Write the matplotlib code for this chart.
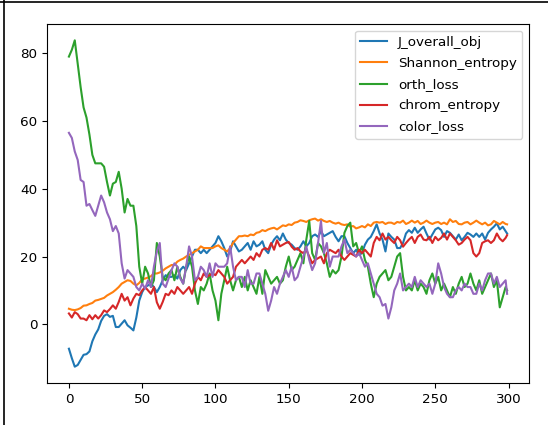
import numpy as np
import matplotlib
matplotlib.use("Agg")
import matplotlib.pyplot as plt
from matplotlib.lines import Line2D

# ── data (every 2nd step, plus the last one) ─────────────────────────────────
steps = list(range(0, 300, 2)) + [299]

j_overall_obj = [
    -7.2, -10, -12.5, -12, -10.5, -9, -8.8, -8, -5, -3,
    -1.5, 1, 2.5, 3, 2.2, 2.5, -0.8, -0.8, 0.2, 1.2,
    -0.3, -1, -1.8, 2, 7, 9.5, 11, 11.5, 12, 11,
    9.5, 11, 13, 14.5, 14, 14, 14.5, 13.5, 16, 17,
    16, 18, 20, 22, 22, 21, 22, 21, 22, 23,
    24, 26, 24.5, 22.5, 20, 21.5, 24.5, 23, 21.5, 22,
    23, 24, 22, 24.5, 23, 23.5, 24.5, 22, 21, 23.5,
    25, 26, 24.8, 26.8, 25, 24, 23.5, 22.5, 22, 23,
    24.5, 23, 24, 26, 26.5, 25.8, 27.5, 26, 26.5, 27,
    27.5, 25.8, 24.5, 26, 26, 24, 22.5, 21, 22, 20.5,
    21, 23.5, 25, 25.8, 27.5, 29.5, 26.8, 25, 21.5, 26.8,
    25.8, 25, 22.5, 22.5, 24, 26.8, 27.8, 27, 28.5, 27,
    28, 28.8, 26.8, 25, 26.5, 28, 28.5, 27.8, 25.8, 27.5,
    27, 26, 25, 26.5, 24.8, 25.8, 27, 26.5, 25.8, 26.8,
    25.8, 26.8, 25, 27, 28, 28.8, 29.8, 28, 28.8, 27.5,
    26.8,
]

shannon_entropy = [
    4.6, 4.3, 4.2, 4.4, 4.8, 5.5, 5.6, 6, 6.3, 7,
    7.2, 7.5, 7.8, 8.5, 9, 9.5, 10.2, 11, 12, 12.5,
    13, 12.8, 12, 11.5, 12.2, 13.3, 13.5, 13.8, 14.2, 15,
    15, 15.3, 15.8, 16.5, 17, 17.5, 17.5, 18.5, 19, 19.4,
    20, 20.5, 21, 21.5, 22, 23, 22.5, 22.5, 22.5, 22.5,
    23, 23.3, 22.5, 22, 21.5, 22.5, 24, 25, 26, 26,
    26.2, 26, 26.5, 26.3, 27, 27.2, 27.8, 27.5, 28, 28.3,
    28.5, 28, 28.6, 29.2, 29, 29.5, 29.3, 30, 30.2, 30.7,
    30.5, 30.2, 30.7, 31, 31.2, 30.6, 31, 30.5, 30.2, 30.5,
    30, 29.7, 30, 29.5, 29.3, 29.5, 28.8, 29, 28.3, 28.6,
    29, 28.6, 29.5, 29, 30, 30.2, 30, 30.2, 29.6, 30,
    30, 29.6, 30.2, 30, 30.6, 29.6, 30, 30.6, 30, 30.5,
    29.6, 30, 30.6, 30, 29.6, 30, 30.2, 29.6, 30, 29.5,
    31, 30.2, 30.5, 29.6, 29.5, 30, 30.2, 29.5, 30, 30.6,
    30, 29.5, 30, 29.2, 29.5, 30.5, 30, 29.5, 30.2, 29.6,
    29.5,
]

orth_loss = [
    79, 81, 83.8, 77, 70, 64, 61, 56, 50, 47.5,
    47.5, 47.5, 46.5, 42, 38, 41.5, 42, 45, 40, 33,
    37, 35, 35, 29, 17, 12, 17, 15, 11, 13,
    24, 20, 14, 13, 15, 16, 13, 17, 14, 12,
    17, 20, 17, 10, 6, 11, 10, 12, 15, 10,
    7, 1.2, 9, 13, 17, 13, 10, 13, 14, 11,
    14, 10, 13, 11, 9, 14, 9, 16, 14, 12,
    13, 14, 12, 13, 17, 20, 16, 17, 19, 21,
    18, 25, 30.5, 21, 19, 24, 23, 21, 18, 14,
    16, 15, 16, 20, 27, 29, 30, 23, 24, 21,
    23, 19, 17, 12, 8, 12, 14, 15, 16, 13,
    14, 17, 20, 21, 14, 10, 11, 10, 13, 10,
    12, 11, 9, 13, 15, 12, 14, 10, 12, 10,
    8, 11, 9, 12, 14, 11, 12, 15, 12, 10,
    13, 9, 11, 13, 15, 11, 13, 5, 8, 11,
    10,
]

chrom_entropy = [
    3.2, 2, 3.6, 3, 1.7, 1.7, 1.2, 2.7, 1.5, 2.7,
    1.7, 2.7, 4.1, 3.6, 4.5, 5.6, 4.6, 6.6, 9, 7,
    8, 5.6, 7.6, 9, 8.6, 10, 11, 10, 9, 11,
    6.5, 4.6, 6.6, 9, 8.6, 10, 9, 11, 10, 9,
    10, 11, 9, 12, 14, 13, 15, 14, 14.5, 15,
    14.5, 16, 15, 14, 12, 13, 14, 17, 18, 19,
    18, 19, 20, 19, 21, 20, 22, 22.5, 22, 24,
    22, 24.8, 23, 23.5, 24, 24.3, 22.9, 22, 22.5, 21.5,
    21, 22, 20, 18, 19, 19.5, 20, 18, 21, 22,
    21.5, 21, 22, 20, 19, 20, 21, 20.5, 20, 22,
    21, 22, 21, 20, 24, 25.8, 24.8, 26.8, 25, 25.8,
    24.8, 24, 25.8, 24.8, 22.9, 24, 25, 25.8, 24, 25.8,
    26.5, 25, 24.8, 25.8, 24, 25.8, 24.8, 25.5, 26.8, 25,
    26.8, 25.8, 24.8, 23.5, 24, 25, 25.8, 24.8, 21, 20,
    21, 24, 24.5, 24.8, 24, 24.8, 26.8, 25.3, 24.5, 25.5,
    26.3,
]

color_loss = [
    56.5, 55, 51, 48.5, 42.6, 42, 35, 35.5, 33.7, 32,
    35, 38, 36, 33, 31, 27.5, 29, 26.8, 18, 13.5,
    16, 15, 14, 11, 10, 12, 10.5, 13, 11, 17,
    21.5, 24, 12, 11, 13.5, 16, 18, 17, 13.5, 12,
    17, 23, 20, 13, 14, 17, 16, 14, 18, 14,
    18, 17, 17, 17, 18, 23, 17, 13, 14, 14,
    11, 16, 12, 12, 15, 15, 12, 9, 4, 7,
    11, 9, 12, 14, 16, 14, 17, 13, 14, 17,
    20, 23, 19, 16, 18, 24, 30.5, 21, 24, 17,
    20, 20, 20, 23, 25, 21, 22, 21, 20, 21,
    19, 17, 18, 15, 12, 9, 8, 5.5, 6, 1.7,
    5, 10, 12, 15, 10, 11, 12, 11, 14, 11,
    13, 12, 11, 12, 9, 12, 18, 15, 11, 9,
    8, 8, 10, 11, 10, 12, 11, 11, 9, 9,
    12, 10, 13, 15, 15, 12, 14, 11, 12, 13,
    9,
]

series = {
    "J_overall_obj": j_overall_obj,
    "Shannon_entropy": shannon_entropy,
    "orth_loss": orth_loss,
    "chrom_entropy": chrom_entropy,
    "color_loss": color_loss,
}

# ── plot ─────────────────────────────────────────────────────────────────────
plt.rcParams["font.size"] = 9.7
plt.rcParams["xtick.major.size"] = 3.4
plt.rcParams["ytick.major.size"] = 3.4

fig = plt.figure(figsize=(5.48, 4.25), dpi=100)
ax = fig.add_axes([47 / 548, 42 / 425, 482 / 548, 359 / 425])

for name, vals in series.items():
    ax.plot(steps, vals, linewidth=1.5, label=name)

ax.set_yticks([0, 20, 40, 60, 80])
ax.set_xticks([0, 50, 100, 150, 200, 250, 300])
ax.legend(loc="upper right", fontsize=9.7, labelspacing=0.6)

# screenshot border on the left and top edges
fig.add_artist(Line2D([4 / 548, 4 / 548], [0, 1], color="black", linewidth=1.2))
fig.add_artist(Line2D([0, 1], [1 - 1.5 / 425, 1 - 1.5 / 425], color="black", linewidth=1.2))

fig.savefig("out.png", dpi=100)
